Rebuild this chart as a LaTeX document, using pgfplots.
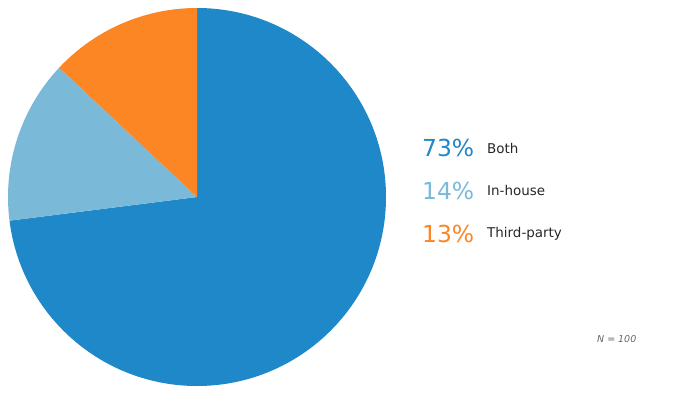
\documentclass[border=0pt]{standalone}
\usepackage{pgfplots}
\pgfplotsset{compat=1.18}
\usepackage{pgfplotstable}
\usepackage{fontspec}
\setmainfont{DejaVu Sans}
\definecolor{cBoth}{HTML}{1F88C8}
\definecolor{cIn}{HTML}{7BB9D9}
\definecolor{cThird}{HTML}{FC8624}
\pgfplotstableread{
label value col
Both 73 cBoth
In-house 14 cIn
Third-party 13 cThird
}\piedata
\begin{document}
\begin{tikzpicture}
\begin{axis}[x=1bp,y=1bp,xmin=0,xmax=675,ymin=0,ymax=407,hide axis,
  clip=false, scale only axis]
\path (axis cs:0,0) rectangle (axis cs:675,407);
\pgfplotstablegetrowsof{\piedata}
\pgfmathtruncatemacro{\nrows}{\pgfplotsretval-1}
\def\cum{0}
\pgfplotsforeachungrouped \i in {0,...,\nrows}{
  \pgfplotstablegetelem{\i}{value}\of{\piedata}\let\val\pgfplotsretval
  \pgfplotstablegetelem{\i}{col}\of{\piedata}\let\col\pgfplotsretval
  \pgfmathsetmacro{\astart}{90-\cum*3.6}
  \pgfmathsetmacro{\aend}{90-(\cum+\val)*3.6}
  \edef\temp{\noexpand\fill[\col] (axis cs:197,210) -- ++(\astart:189bp) arc[start angle=\astart, end angle=\aend, radius=189bp] -- cycle;}
  \temp
  \pgfmathsetmacro{\cum}{\cum+\val}
  \xdef\cum{\cum}
}
\node[anchor=base west, text=cBoth, font=\fontsize{23.5}{26}\selectfont, inner sep=0] at (axis cs:422,251) {73\%};
\node[anchor=base west, text=cIn, font=\fontsize{23.5}{26}\selectfont, inner sep=0] at (axis cs:422,208) {14\%};
\node[anchor=base west, text=cThird, font=\fontsize{23.5}{26}\selectfont, inner sep=0] at (axis cs:422,165) {13\%};
\node[anchor=base west, text=black!85, font=\fontsize{13.5}{15}\selectfont, inner sep=0] at (axis cs:487,254) {Both};
\node[anchor=base west, text=black!85, font=\fontsize{13.5}{15}\selectfont, inner sep=0] at (axis cs:487,212) {In-house};
\node[anchor=base west, text=black!85, font=\fontsize{13.5}{15}\selectfont, inner sep=0] at (axis cs:487,170) {Third-party};
\node[anchor=base west, text=black!60, font=\fontsize{9.5}{11}\selectfont\itshape, inner sep=0] at (axis cs:597,65) {N = 100};
\end{axis}
\end{tikzpicture}
\end{document}
